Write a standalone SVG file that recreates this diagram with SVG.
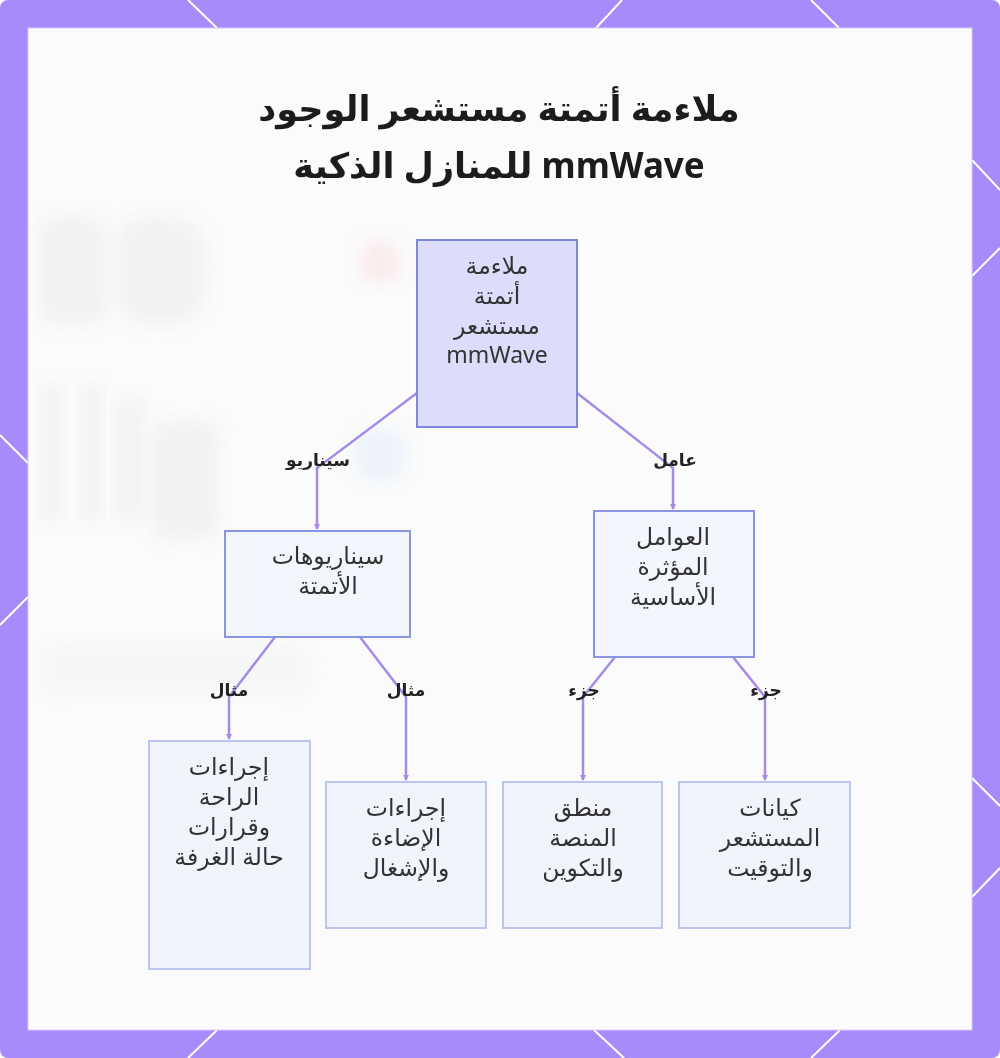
<svg xmlns="http://www.w3.org/2000/svg" width="1000" height="1058" viewBox="0 0 1000 1058">
<defs>
<style>
.title{font-family:"Noto Sans","DejaVu Sans",sans-serif;font-weight:700;font-size:35px;fill:#1c1c1c;text-anchor:middle}
.nt{font-family:"Noto Sans","DejaVu Sans",sans-serif;font-size:23.5px;fill:#333333;text-anchor:middle}
.lat{font-size:23px}
.el{font-family:"Noto Sans","DejaVu Sans",sans-serif;font-weight:700;font-size:17px;fill:#222222;text-anchor:middle}
.edge{fill:none;stroke:#a68be6;stroke-width:2.5}
.hex{stroke:#ffffff;stroke-width:2;fill:none}
.n1 rect{fill:#dcdcfb;stroke:#7d86d9;stroke-width:2}
.n2 rect{fill:#f4f6fe;stroke:#8a97e0;stroke-width:2}
.n3 rect{fill:#f1f3fd;stroke:#bcc4f0;stroke-width:2}
.ghost{fill:#eceeef;filter:url(#blur)}
</style>
<marker id="arr" markerWidth="6" markerHeight="6" refX="5" refY="3" orient="auto" markerUnits="userSpaceOnUse"><path d="M0,0 L6,3 L0,6 z" fill="#a68be6"/></marker>
<filter id="blur" x="-20%" y="-20%" width="140%" height="140%"><feGaussianBlur stdDeviation="7"/></filter>
</defs>
<rect x="0" y="0" width="1000" height="1058" fill="#ffffff"/>
<rect x="0" y="0" width="1000" height="1058" rx="8" fill="#a78bfa"/>
<g id="frame-lines">
<line class="hex" x1="188" y1="0" x2="217" y2="28"/>
<line class="hex" x1="622" y1="0" x2="596" y2="28"/>
<line class="hex" x1="811" y1="0" x2="839" y2="28"/>
<line class="hex" x1="217" y1="1030" x2="188" y2="1058"/>
<line class="hex" x1="594" y1="1030" x2="624" y2="1058"/>
<line class="hex" x1="840" y1="1030" x2="811" y2="1058"/>
<line class="hex" x1="0" y1="435" x2="28" y2="463"/>
<line class="hex" x1="28" y1="597" x2="0" y2="625"/>
<line class="hex" x1="972" y1="160" x2="1000" y2="190"/>
<line class="hex" x1="1000" y1="248" x2="972" y2="276"/>
<line class="hex" x1="972" y1="778" x2="1000" y2="806"/>
<line class="hex" x1="1000" y1="868" x2="972" y2="897"/>
</g>
<rect x="28" y="28" width="944" height="1002" fill="#fbfbfb" stroke="#d9cdf7" stroke-width="1"/>
<g id="backdrop" opacity="0.6">
<rect class="ghost" x="38" y="215" width="70" height="110" rx="20"/>
<rect class="ghost" x="112" y="215" width="95" height="110" rx="40"/>
<rect class="ghost" x="40" y="385" width="22" height="135"/>
<rect class="ghost" x="80" y="385" width="22" height="135"/>
<rect class="ghost" x="115" y="400" width="30" height="120"/>
<rect class="ghost" x="150" y="420" width="70" height="120" rx="20"/>
<rect class="ghost" x="40" y="645" width="270" height="50" rx="20" opacity="0.5"/>
<circle cx="380" cy="262" r="22" fill="#fbe3e6" filter="url(#blur)"/>
<circle cx="380" cy="455" r="28" fill="#e6effb" filter="url(#blur)"/>
</g>
<text class="title" x="499" y="121" direction="rtl">ملاءمة أتمتة مستشعر الوجود</text>
<text class="title" x="499" y="178" direction="rtl">mmWave للمنازل الذكية</text>
<g id="connectors">
<path class="edge" d="M417,393 L317,468 L317,529" marker-end="url(#arr)"/>
<path class="edge" d="M577,393 L673,468 L673,509" marker-end="url(#arr)"/>
<path class="edge" d="M275,637 L229,697 L229,739" marker-end="url(#arr)"/>
<path class="edge" d="M360,637 L406,697 L406,780" marker-end="url(#arr)"/>
<path class="edge" d="M615,657 L583,697 L583,780" marker-end="url(#arr)"/>
<path class="edge" d="M733,657 L765,697 L765,780" marker-end="url(#arr)"/>
<text class="el" x="318" y="466" direction="rtl">سيناريو</text>
<text class="el" x="675" y="466" direction="rtl">عامل</text>
<text class="el" x="229" y="696" direction="rtl">مثال</text>
<text class="el" x="406" y="696" direction="rtl">مثال</text>
<text class="el" x="584" y="696" direction="rtl">جزء</text>
<text class="el" x="766" y="696" direction="rtl">جزء</text>
</g>
<g id="node-root" class="n1">
<rect x="417" y="240" width="160" height="187"/>
<text class="nt" x="497" y="274" direction="rtl">ملاءمة</text>
<text class="nt" x="497" y="304" direction="rtl">أتمتة</text>
<text class="nt" x="497" y="334" direction="rtl">مستشعر</text>
<text class="nt lat" x="497" y="363">mmWave</text>
</g>
<g id="node-scenarios" class="n2">
<rect x="225" y="531" width="185" height="106"/>
<text class="nt" x="328" y="564" direction="rtl">سيناريوهات</text>
<text class="nt" x="328" y="594" direction="rtl">الأتمتة</text>
</g>
<g id="node-factors" class="n2">
<rect x="594" y="511" width="160" height="146"/>
<text class="nt" x="673" y="545" direction="rtl">العوامل</text>
<text class="nt" x="673" y="575" direction="rtl">المؤثرة</text>
<text class="nt" x="673" y="605" direction="rtl">الأساسية</text>
</g>
<g id="node-comfort" class="n3">
<rect x="149" y="741" width="161" height="228"/>
<text class="nt" x="229" y="775" direction="rtl">إجراءات</text>
<text class="nt" x="229" y="805" direction="rtl">الراحة</text>
<text class="nt" x="229" y="835" direction="rtl">وقرارات</text>
<text class="nt" x="229" y="865" direction="rtl">حالة الغرفة</text>
</g>
<g id="node-lighting" class="n3">
<rect x="326" y="782" width="160" height="146"/>
<text class="nt" x="406" y="816" direction="rtl">إجراءات</text>
<text class="nt" x="406" y="846" direction="rtl">الإضاءة</text>
<text class="nt" x="406" y="876" direction="rtl">والإشغال</text>
</g>
<g id="node-platform" class="n3">
<rect x="503" y="782" width="159" height="146"/>
<text class="nt" x="583" y="816" direction="rtl">منطق</text>
<text class="nt" x="583" y="846" direction="rtl">المنصة</text>
<text class="nt" x="583" y="876" direction="rtl">والتكوين</text>
</g>
<g id="node-entities" class="n3">
<rect x="679" y="782" width="171" height="146"/>
<text class="nt" x="770" y="816" direction="rtl">كيانات</text>
<text class="nt" x="770" y="846" direction="rtl">المستشعر</text>
<text class="nt" x="770" y="876" direction="rtl">والتوقيت</text>
</g>
</svg>
